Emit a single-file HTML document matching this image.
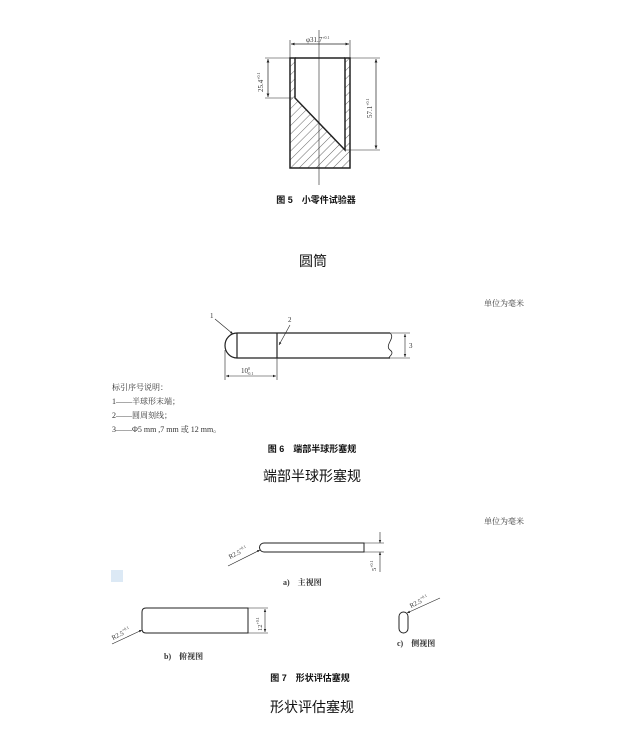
<!DOCTYPE html>
<html><head><meta charset="utf-8"><style>
html,body{margin:0;padding:0;background:#fff;width:627px;height:730px;overflow:hidden}
svg{display:block}
text{font-family:"Liberation Serif","Noto Serif CJK SC",serif;fill:#333}
.s{font-family:"Liberation Sans","Noto Sans CJK SC",sans-serif;fill:#111}
</style></head><body>
<svg width="627" height="730" viewBox="0 0 627 730" xmlns="http://www.w3.org/2000/svg">
<defs>
<pattern id="h" width="6" height="6" patternUnits="userSpaceOnUse" patternTransform="rotate(45)">
<line x1="0" y1="0" x2="0" y2="6" stroke="#444" stroke-width="0.8"/></pattern>
<marker id="a" markerWidth="6" markerHeight="6" refX="5" refY="3" orient="auto-start-reverse"><path d="M0,1 L5,3 L0,5z" fill="#222"/></marker>
</defs>
<g stroke="#222" fill="none">
<path d="M290,58 H295 V98 L345,150 V58 H350 V168 H290 Z" fill="url(#h)" stroke-width="1.5"/>
<line x1="295" y1="58" x2="345" y2="58" stroke-width="1.5"/>
<line x1="319" y1="30" x2="319" y2="185" stroke-width="0.6"/>
<line x1="290" y1="40" x2="290" y2="58" stroke-width="0.6"/>
<line x1="350" y1="40" x2="350" y2="58" stroke-width="0.6"/>
<line x1="291" y1="44" x2="349" y2="44" stroke-width="0.7" marker-start="url(#a)" marker-end="url(#a)"/>
<line x1="265" y1="58" x2="290" y2="58" stroke-width="0.6"/>
<line x1="265" y1="98" x2="293" y2="98" stroke-width="0.6"/>
<line x1="268" y1="59" x2="268" y2="97" stroke-width="0.7" marker-start="url(#a)" marker-end="url(#a)"/>
<line x1="350" y1="58" x2="380" y2="58" stroke-width="0.6"/>
<line x1="345" y1="150" x2="380" y2="150" stroke-width="0.6"/>
<line x1="376" y1="59" x2="376" y2="149" stroke-width="0.7" marker-start="url(#a)" marker-end="url(#a)"/>
</g>
<text x="306" y="42" font-size="7">φ31.7<tspan font-size="4" dy="-3">+0.1</tspan></text>
<text transform="translate(263,92) rotate(-90)" font-size="7">25.4<tspan font-size="4" dy="-3">+0.1</tspan></text>
<text transform="translate(372,118) rotate(-90)" font-size="7">57.1<tspan font-size="4" dy="-3">+0.1</tspan></text>
<text x="316" y="203" class="s" font-size="9" font-weight="bold" text-anchor="middle">图 5　小零件试验器</text>
<text x="313" y="266" class="s" font-size="14" text-anchor="middle">圆筒</text>
<text x="484" y="306" font-size="8">单位为毫米</text>
<g stroke="#222" fill="none" stroke-width="1.2">
<path d="M237,333 H390 M237,358 H390 M237,333 A12,12.5 0 0 0 237,358 M237,333 V358 M277,333 V358"/>
<path d="M390,333 C396,338 384,345 390,350 C396,354 386,358 390,358" stroke-width="0.8"/>
<g stroke-width="0.6">
<line x1="215" y1="319" x2="233" y2="334" marker-end="url(#a)"/>
<line x1="290" y1="325" x2="279" y2="345" marker-end="url(#a)"/>
<line x1="390" y1="333" x2="410" y2="333"/><line x1="390" y1="358" x2="410" y2="358"/>
<line x1="405" y1="334" x2="405" y2="357" marker-start="url(#a)" marker-end="url(#a)"/>
<line x1="225" y1="350" x2="225" y2="380"/><line x1="277" y1="358" x2="277" y2="380"/>
<line x1="226" y1="376" x2="276" y2="376" marker-start="url(#a)" marker-end="url(#a)"/>
</g></g>
<text x="210" y="318" font-size="7">1</text><text x="288" y="322" font-size="7">2</text>
<text x="409" y="348" font-size="7">3</text>
<text x="241" y="373" font-size="7">10<tspan font-size="4" dy="-3">0</tspan><tspan font-size="4" dx="-3" dy="5">-0.1</tspan></text>
<g font-size="8">
<text x="112" y="390">标引序号说明：</text>
<text x="112" y="404">1——半球形末端；</text>
<text x="112" y="418">2——圆周刻线；</text>
<text x="112" y="432">3——Φ5 mm ,7 mm 或 12 mm。</text>
</g>
<text x="312" y="452" class="s" font-size="9" font-weight="bold" text-anchor="middle">图 6　端部半球形塞规</text>
<text x="312" y="481" class="s" font-size="14" text-anchor="middle">端部半球形塞规</text>
<text x="484" y="524" font-size="8">单位为毫米</text>
<rect x="111" y="570" width="12" height="12" fill="#dce9f5"/>
<g stroke="#222" fill="none" stroke-width="1">
<path d="M264,543 H364 V552 H264 A4.5,4.5 0 0 1 264,543 Z"/>
<path d="M146,608 H248 V633 H146 Q142,633 142,629 V612 Q142,608 146,608 Z"/>
<rect x="399" y="612" width="9" height="21" rx="4.5"/>
<g stroke-width="0.6">
<line x1="228" y1="566" x2="260" y2="550" marker-end="url(#a)"/>
<line x1="364" y1="543" x2="384" y2="543"/><line x1="364" y1="552" x2="384" y2="552"/>
<line x1="380" y1="532" x2="380" y2="543" marker-end="url(#a)"/>
<line x1="380" y1="572" x2="380" y2="552" marker-end="url(#a)"/>
<line x1="112" y1="644" x2="142" y2="630" marker-end="url(#a)"/>
<line x1="248" y1="608" x2="268" y2="608"/><line x1="248" y1="633" x2="268" y2="633"/>
<line x1="265" y1="609" x2="265" y2="632" marker-start="url(#a)" marker-end="url(#a)"/>
<line x1="440" y1="598" x2="407" y2="613" marker-end="url(#a)"/>
</g></g>
<text transform="translate(230,559) rotate(-27)" font-size="6.5">R2.5<tspan font-size="4" dy="-3">+0.1</tspan></text>
<text transform="translate(376,571) rotate(-90)" font-size="6.5">5<tspan font-size="4" dy="-3">+0.1</tspan></text>
<text transform="translate(113,640) rotate(-27)" font-size="6.5">R2.5<tspan font-size="4" dy="-3">+0.1</tspan></text>
<text transform="translate(262,631) rotate(-90)" font-size="6.5">12<tspan font-size="4" dy="-3">+0.1</tspan></text>
<text transform="translate(411,608) rotate(-27)" font-size="6.5">R2.5<tspan font-size="4" dy="-3">+0.1</tspan></text>
<g class="s" font-size="8" font-weight="bold">
<text x="283" y="585">a)　主视图</text>
<text x="164" y="659">b)　俯视图</text>
<text x="397" y="646">c)　侧视图</text>
</g>
<text x="310" y="681" class="s" font-size="9" font-weight="bold" text-anchor="middle">图 7　形状评估塞规</text>
<text x="312" y="712" class="s" font-size="14" text-anchor="middle">形状评估塞规</text>
</svg>
</body></html>
